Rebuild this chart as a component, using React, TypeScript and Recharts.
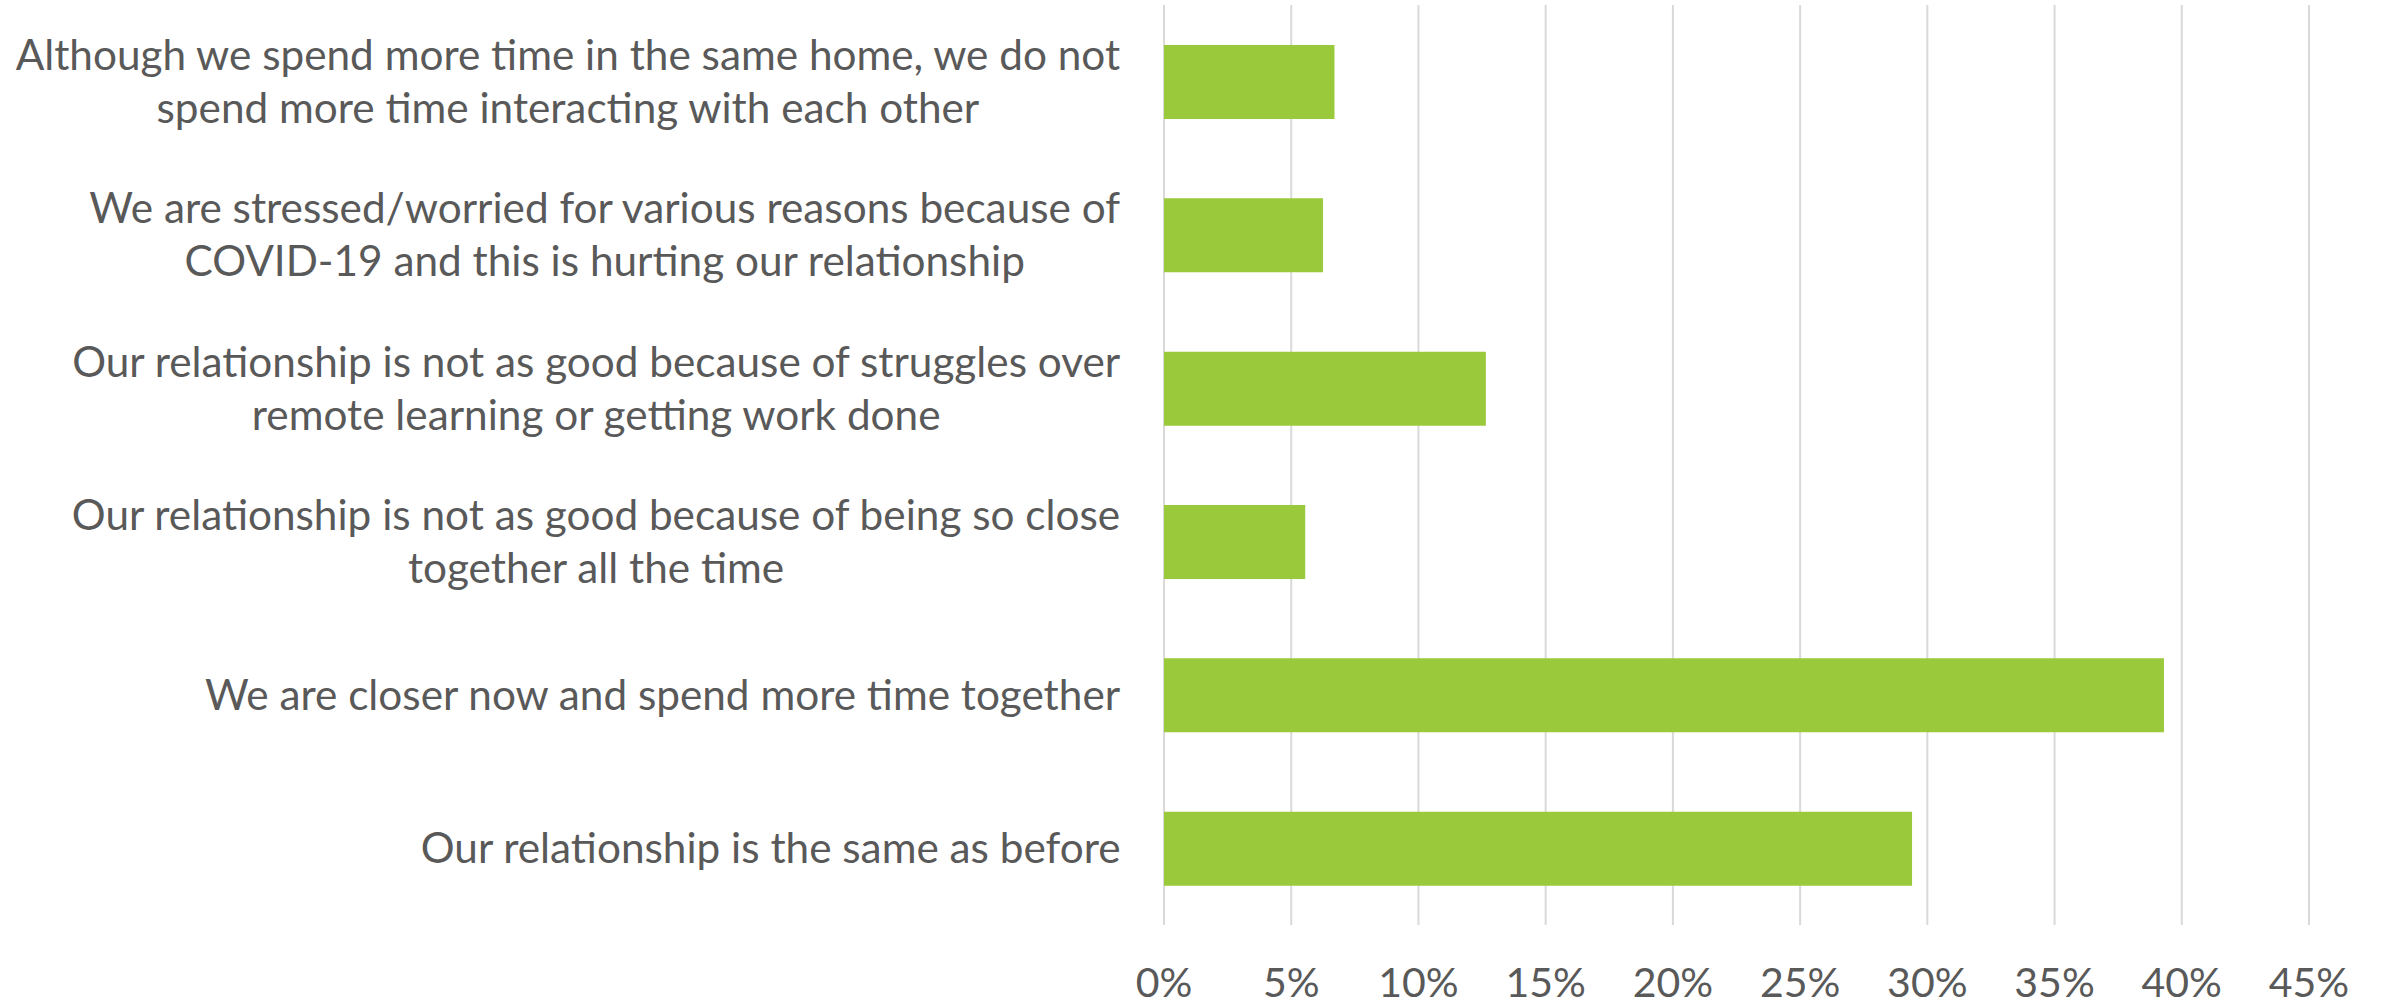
import React from 'react'
import { BarChart, Bar, XAxis, YAxis, CartesianGrid } from 'recharts'

const categories = [
  'Although we spend more time in the same home, we do not\nspend more time interacting with each other',
  'We are stressed/worried for various reasons because of\nCOVID-19 and this is hurting our relationship',
  'Our relationship is not as good because of struggles over\nremote learning or getting work done',
  'Our relationship is not as good because of being so close\ntogether all the time',
  'We are closer now and spend more time together',
  'Our relationship is the same as before',
]
const shares = [0.067, 0.0625, 0.1265, 0.0555, 0.393, 0.294]
const xTicks = [0, 0.05, 0.1, 0.15, 0.2, 0.25, 0.3, 0.35, 0.4, 0.45]

const data = categories.map((label, i) => ({ label, share: shares[i] }))

const FONT = 'Lato, "Open Sans", sans-serif'
const LABEL_SIZE = 42.3
const TICK_SIZE = 41
const TEXT = '#595959'
const LINE_GAP = 53

let ctx: CanvasRenderingContext2D | null = null
function textWidth(s: string, size: number) {
  if (!ctx) ctx = document.createElement('canvas').getContext('2d')
  if (!ctx) return s.length * size * 0.5
  ctx.font = `${size}px Lato`
  return ctx.measureText(s).width
}

// multi-line category label: block right aligned, lines centred inside it
const CategoryTick = (props: any) => {
  const { x, y, payload } = props
  const lines: string[] = String(payload.value).split('\n')
  const w = Math.max(...lines.map((l) => textWidth(l, LABEL_SIZE)))
  const cx = x - w / 2
  const y0 = y - ((lines.length - 1) * LINE_GAP) / 2
  return (
    <g>
      {lines.map((l, i) => (
        <text
          key={i}
          x={cx}
          y={y0 + i * LINE_GAP}
          dy="0.35em"
          textAnchor="middle"
          fontSize={LABEL_SIZE}
          fontFamily={FONT}
          fill={TEXT}
        >
          {l}
        </text>
      ))}
    </g>
  )
}

const PercentTick = (props: any) => {
  const { x, y, payload } = props
  return (
    <text x={x} y={y + 72} textAnchor="middle" fontSize={TICK_SIZE} fontFamily={FONT} fill={TEXT}>
      {`${Math.round(payload.value * 100)}%`}
    </text>
  )
}

export default function App() {
  return (
    <div style={{ position: 'absolute', left: 0, top: 0, background: '#fff' }}>
      <BarChart
        width={2381}
        height={1007}
        data={data}
        layout="vertical"
        margin={{ top: 5, right: 72, bottom: 0, left: 0 }}
      >
        <CartesianGrid horizontal={false} stroke="#d9d9d9" strokeWidth={2} />
        <XAxis
          type="number"
          domain={[0, 0.45]}
          ticks={xTicks}
          axisLine={false}
          tickLine={false}
          tickSize={0}
          tickMargin={0}
          height={82}
          tick={<PercentTick />}
          interval={0}
        />
        <YAxis
          type="category"
          dataKey="label"
          width={1164}
          axisLine={false}
          tickLine={false}
          tickSize={0}
          tickMargin={43}
          tick={<CategoryTick />}
          interval={0}
        />
        <Bar dataKey="share" fill="#9aca3c" barSize={74} isAnimationActive={false} />
      </BarChart>
    </div>
  )
}
